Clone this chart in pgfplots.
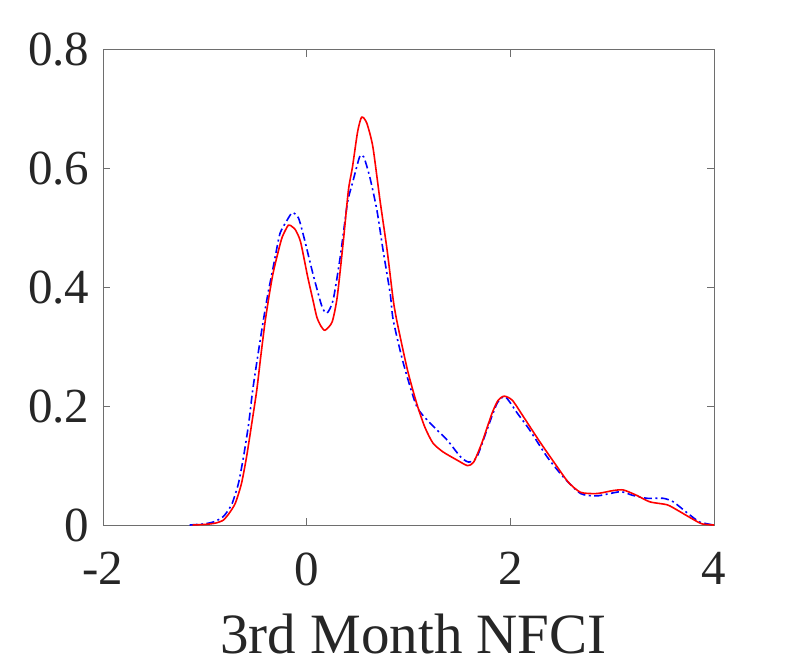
\documentclass[border=0pt]{standalone}
\usepackage{fontspec}
\setmainfont{Liberation Serif}
\usepackage{pgfplots}
\pgfplotsset{compat=1.18}
\definecolor{txtgray}{RGB}{38,38,38}
\definecolor{axgray}{RGB}{110,110,110}
\begin{document}
\begin{tikzpicture}
\useasboundingbox (0,0) rectangle (789pt,664pt);
\begin{axis}[
  at={(103pt,139pt)}, anchor=south west,
  scale only axis, width=611pt, height=475pt,
  xmin=-2, xmax=4, ymin=0, ymax=0.8,
  xtick={-2,0,2,4}, ytick={0,0.2,0.4,0.6,0.8},
  tick align=inside, major tick length=7pt,
  axis line style={axgray, line width=1pt},
  tick style={axgray, line width=1pt},
  /pgf/number format/assume math mode=true,
  yticklabel style={/pgf/number format/fixed, /pgf/number format/precision=1, xshift=-10pt},
  xticklabel style={yshift=-24pt},
  tick label style={font=\fontsize{49}{49}\selectfont, text=txtgray},
  xlabel={3rd Month NFCI},
  xlabel style={font=\fontsize{57}{57}\selectfont, text=txtgray, yshift=-21pt, xshift=5pt},
]
\addplot[blue, line width=1.6pt, smooth, tension=0.4, dash pattern=on 8pt off 3.5pt on 2pt off 3.5pt] coordinates {
(-1.15,0) (-1.0,0.002) (-0.9,0.006) (-0.82,0.014) (-0.77,0.025) (-0.73,0.037) (-0.67,0.07) (-0.62,0.115) (-0.57,0.17) (-0.53,0.227) (-0.48,0.285) (-0.43,0.34) (-0.38,0.39) (-0.34,0.424) (-0.30,0.46) (-0.26,0.492) (-0.19,0.514) (-0.14,0.526) (-0.08,0.517) (-0.02,0.48) (0.06,0.424) (0.15,0.368) (0.20,0.357) (0.26,0.379) (0.33,0.452) (0.40,0.542) (0.45,0.576) (0.52,0.62) (0.56,0.62) (0.62,0.586) (0.69,0.53) (0.75,0.463) (0.82,0.39) (0.85,0.345) (0.95,0.272) (1.08,0.2) (1.21,0.172) (1.38,0.143) (1.51,0.115) (1.59,0.106) (1.67,0.114) (1.77,0.16) (1.87,0.205) (1.95,0.216) (2.07,0.188) (2.19,0.16) (2.36,0.115) (2.52,0.081) (2.69,0.053) (2.85,0.049) (3.08,0.056) (3.20,0.05) (3.34,0.045) (3.50,0.045) (3.60,0.039) (3.74,0.02) (3.86,0.005) (4.0,0)
};
\addplot[red, line width=1.6pt, smooth, tension=0.4] coordinates {
(-1.12,0) (-1.0,0.001) (-0.9,0.003) (-0.82,0.008) (-0.76,0.02) (-0.70,0.037) (-0.64,0.07) (-0.59,0.115) (-0.54,0.17) (-0.49,0.227) (-0.45,0.285) (-0.41,0.34) (-0.37,0.385) (-0.33,0.424) (-0.28,0.46) (-0.24,0.485) (-0.18,0.505) (-0.14,0.502) (-0.11,0.497) (-0.06,0.477) (0.01,0.418) (0.06,0.38) (0.10,0.35) (0.14,0.335) (0.18,0.328) (0.25,0.342) (0.30,0.384) (0.36,0.478) (0.41,0.564) (0.45,0.603) (0.50,0.662) (0.54,0.687) (0.59,0.677) (0.65,0.637) (0.72,0.547) (0.79,0.463) (0.85,0.379) (0.89,0.34) (0.99,0.261) (1.08,0.205) (1.16,0.165) (1.24,0.138) (1.34,0.123) (1.48,0.109) (1.58,0.10) (1.64,0.106) (1.72,0.138) (1.82,0.188) (1.88,0.21) (1.94,0.217) (2.02,0.21) (2.13,0.182) (2.29,0.14) (2.46,0.098) (2.57,0.072) (2.69,0.055) (2.85,0.053) (3.01,0.058) (3.11,0.059) (3.24,0.05) (3.37,0.039) (3.54,0.034) (3.64,0.025) (3.77,0.012) (3.88,0.002) (4.0,0)
};
\end{axis}
\end{tikzpicture}
\end{document}
